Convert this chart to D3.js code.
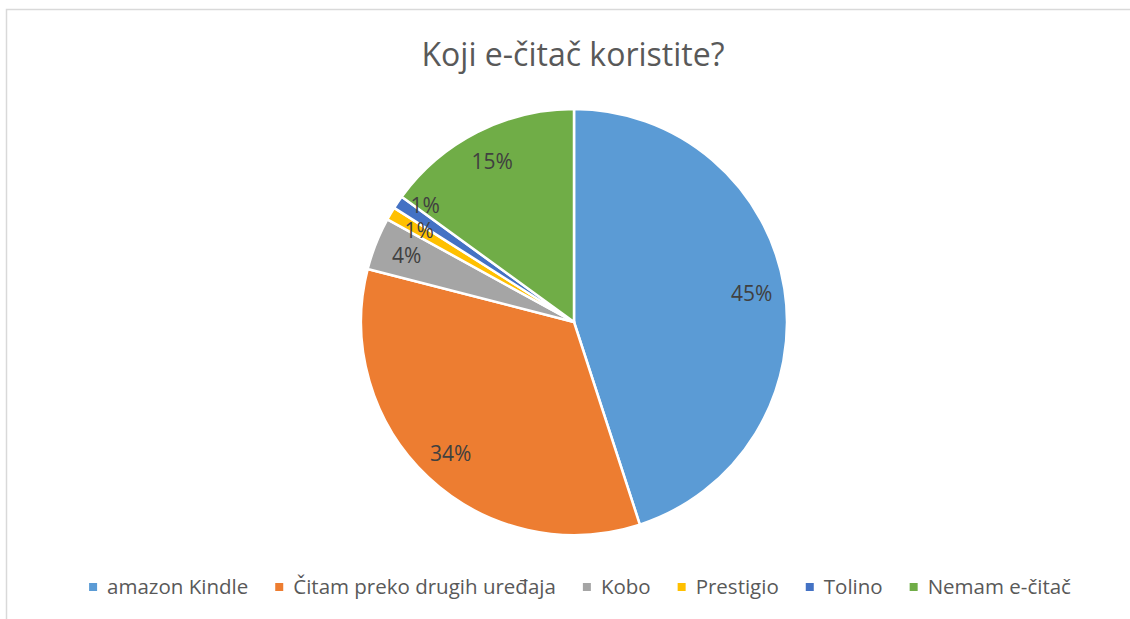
<!DOCTYPE html>
<html>
<head>
<meta charset="utf-8">
<script src="https://cdn.jsdelivr.net/npm/d3@7"></script>
<style>
  body { margin: 0; background: #fff; }
  text { font-family: "Open Sans", "Noto Sans", sans-serif; }
</style>
</head>
<body>
<div id="chart"></div>
<script>
var width = 1130;
var height = 619;

// data
var categories = ["amazon Kindle", "Čitam preko drugih uređaja", "Kobo", "Prestigio", "Tolino", "Nemam e-čitač"];
var values = [45, 34, 4, 1, 1, 15];
var colors = ["#5B9BD5", "#ED7D31", "#A5A5A5", "#FFC000", "#4472C4", "#70AD47"];
var title = "Koji e-čitač koristite?";

var svg = d3.select("#chart").append("svg")
    .attr("width", width)
    .attr("height", height);

// chart border
svg.append("rect")
    .attr("x", 6.5)
    .attr("y", 9.5)
    .attr("width", width)
    .attr("height", height)
    .attr("fill", "none")
    .attr("stroke", "#d9d9d9")
    .attr("stroke-width", 1.5);

svg.append("text")
    .attr("x", 573)
    .attr("y", 66)
    .attr("text-anchor", "middle")
    .attr("fill", "#595959")
    .style("font-size", "32px")
    .text(title);

var cx = 574, cy = 322, radius = 213;

var pie = d3.pie().sort(null).value(function (d) { return d; });
var arcs = pie(values);

var arc = d3.arc().innerRadius(0).outerRadius(radius);

var g = svg.append("g")
    .attr("transform", "translate(" + cx + "," + cy + ")");

g.selectAll("path")
    .data(arcs)
    .enter()
    .append("path")
    .attr("d", arc)
    .attr("fill", function (d, i) { return colors[i]; })
    .attr("stroke", "#fff")
    .attr("stroke-width", 2.5)
    .attr("stroke-linejoin", "round");

// labels - place them near the outer edge, push small ones apart
var labelArc = d3.arc().innerRadius(0).outerRadius(radius * 1.69);
var labels = arcs.map(function (d) {
    var c = labelArc.centroid(d);
    return { x: c[0], y: c[1], text: Math.round(d.data) + "%" };
});
for (var i = 3; i < 5; i++) {
    if (labels[i - 1].y - labels[i].y < 25) {
        labels[i].y = labels[i - 1].y - 25;
    }
}

g.selectAll("text.lbl")
    .data(labels)
    .enter()
    .append("text")
    .attr("class", "lbl")
    .attr("x", function (d) { return d.x; })
    .attr("y", function (d) { return d.y; })
    .attr("dy", "0.35em")
    .attr("text-anchor", "middle")
    .attr("fill", "#404040")
    .style("font-size", "21px")
    .text(function (d) { return d.text; });

// legend
var legend = svg.append("g").attr("class", "legend");
var items = legend.selectAll("g")
    .data(categories)
    .enter()
    .append("g");

items.append("rect")
    .attr("width", 8)
    .attr("height", 8)
    .attr("y", -4)
    .attr("fill", function (d, i) { return colors[i]; });

items.append("text")
    .attr("x", 18)
    .attr("dy", "0.35em")
    .attr("fill", "#595959")
    .style("font-size", "20.5px")
    .text(function (d) { return d; });

var xPos = 0;
var offsets = [];
items.each(function () {
    offsets.push(xPos);
    var w = d3.select(this).select("text").node().getComputedTextLength();
    xPos += 18 + w + 27;
});
var total = xPos - 27;
items.attr("transform", function (d, i) { return "translate(" + offsets[i] + ",0)"; });
legend.attr("transform", "translate(" + (580 - total / 2) + ",587)");
</script>
</body>
</html>
